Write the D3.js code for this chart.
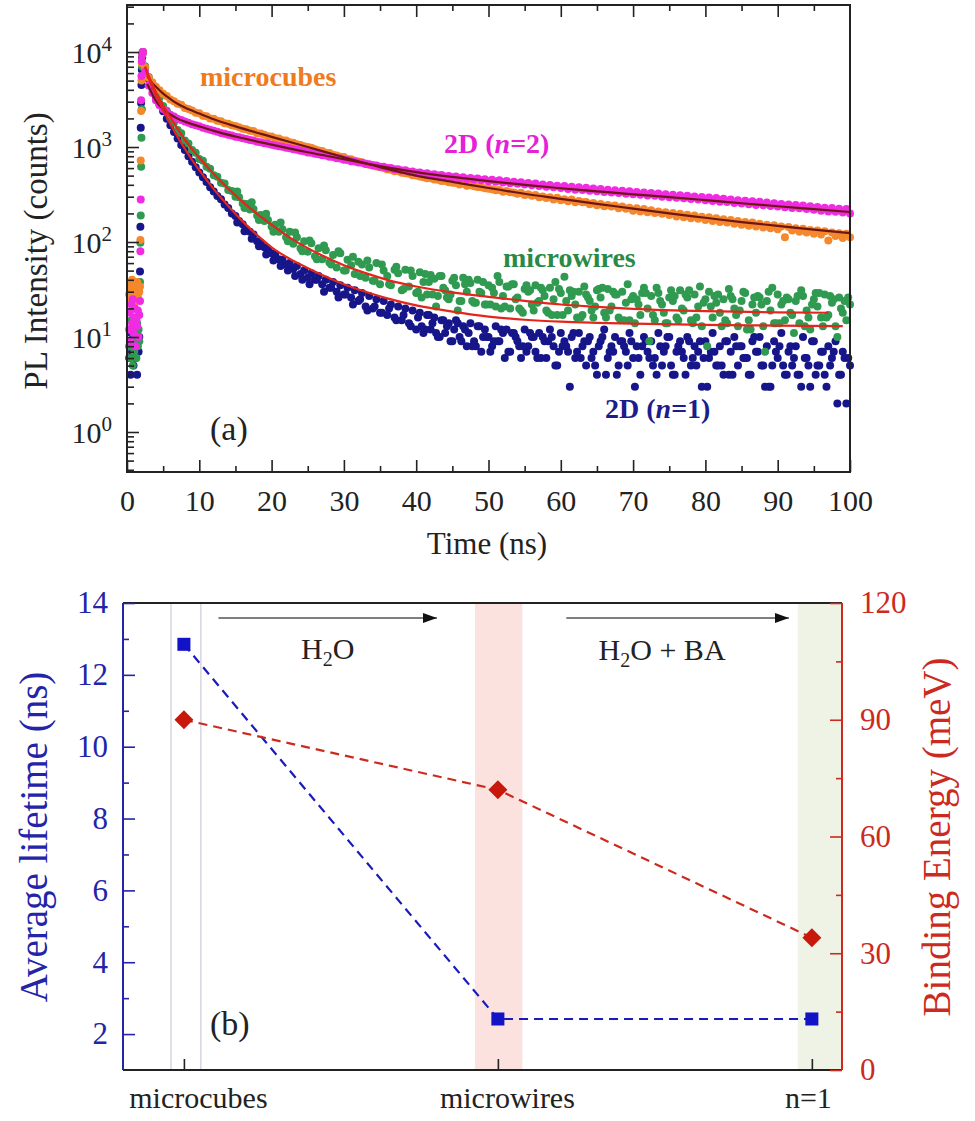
<!DOCTYPE html>
<html>
<head>
<meta charset="utf-8">
<script src="https://cdn.jsdelivr.net/npm/d3@7"></script>
<style>
  body { margin: 0; background: #fff; }
  svg { display: block; font-family: "Liberation Serif", "Times New Roman", serif; }
</style>
</head>
<body>
<script>
// ---------- panel (a): PL decay traces (counts vs ns) ----------
// rising edge, shared time stamps
const riseTime = [0.3, 0.4, 0.5, 0.6, 0.7, 0.8, 0.9, 1.0, 1.1, 1.2, 1.3, 1.4, 1.5, 1.6, 1.7, 1.8, 1.85, 1.9, 1.95, 2.0, 2.05, 2.1, 2.15, 2.2];
const riseCubes = [28, 35, 24, 31, 40, 26, 33, 22, 36, 29, 25, 38, 27, 32, 30, 34, 105, 720, 2400, 5000, 7600, 9300, 9800, 10000];
const riseN2 = [12, 18, 9, 22, 14, 25, 11, 16, 20, 8, 15, 13, 19, 10, 17, 24, 80, 280, 3100, 5600, 8000, 9400, 9900, 10000];
const riseWires = [8, 12, 6, 15, 9, 5, 11, 7, 13, 10, 6, 14, 8, 12, 9, 38, 98, 190, 620, 1250, 2500, 7000, 9600, 10000];
const riseN1 = [6, 9, 4, 11, 7, 13, 5, 8, 10, 6, 12, 4, 9, 7, 10, 49, 145, 1600, 2900, 4500, 6500, 8800, 9700, 10000];

// decay channels, every 0.5 ns from 2.5 to 100 ns
const decayTime = d3.range(2.5, 100.01, 0.5);
const decayCubes = [
  6900, 5350, 4800, 4320, 3950, 3640, 3450, 3170, 3030, 2850,
  2780, 2580, 2520, 2430, 2290, 2270, 2140, 2110, 2000, 1980,
  1890, 1870, 1780, 1760, 1690, 1660, 1610, 1560, 1540, 1480,
  1470, 1400, 1390, 1350, 1300, 1290, 1240, 1230, 1180, 1170,
  1120, 1110, 1070, 1050, 1020, 1000, 980, 950, 920, 910,
  870, 865, 830, 815, 790, 785, 750, 745, 715, 705,
  690, 672, 650, 645, 622, 612, 600, 580, 578, 555,
  556, 535, 528, 522, 505, 500, 488, 482, 470, 468,
  456, 452, 438, 440, 425, 420, 418, 404, 410, 392,
  396, 386, 380, 378, 368, 364, 360, 350, 352, 338,
  344, 334, 332, 322, 330, 312, 318, 306, 312, 296,
  302, 290, 296, 280, 292, 276, 282, 268, 280, 262,
  270, 262, 264, 250, 258, 244, 252, 238, 246, 236,
  242, 226, 236, 224, 230, 214, 226, 210, 222, 206,
  216, 202, 210, 198, 206, 192, 202, 186, 198, 182,
  194, 178, 190, 176, 184, 170, 182, 166, 178, 162,
  174, 160, 170, 156, 166, 152, 162, 148, 160, 146,
  156, 142, 152, 140, 150, 136, 146, 112, 144, 132,
  140, 128, 138, 126, 134, 122, 132, 120, 130, 104,
  126, 116, 124, 110, 122, 112
];
const decayN2 = [
  6200, 4450, 3700, 3100, 2760, 2520, 2330, 2190, 2090, 1980,
  1930, 1860, 1800, 1740, 1690, 1650, 1600, 1560, 1520, 1480,
  1450, 1405, 1380, 1345, 1320, 1285, 1265, 1235, 1215, 1185,
  1168, 1135, 1122, 1095, 1080, 1055, 1040, 1018, 1004, 985,
  970, 948, 935, 912, 902, 878, 870, 848, 840, 818,
  812, 790, 784, 762, 756, 735, 730, 710, 705, 688,
  682, 662, 660, 640, 638, 620, 618, 600, 600, 582,
  584, 566, 568, 550, 554, 536, 540, 522, 528, 512,
  516, 500, 506, 490, 496, 480, 488, 470, 480, 462,
  472, 454, 466, 446, 458, 436, 452, 430, 446, 422,
  440, 416, 432, 410, 426, 402, 418, 396, 412, 388,
  404, 382, 398, 376, 392, 370, 388, 362, 382, 356,
  376, 352, 372, 346, 366, 342, 362, 336, 356, 332,
  350, 328, 346, 322, 342, 318, 336, 314, 332, 308,
  328, 306, 324, 300, 318, 296, 314, 292, 310, 288,
  306, 284, 302, 280, 298, 276, 294, 270, 290, 266,
  286, 264, 280, 258, 276, 254, 272, 250, 268, 246,
  266, 244, 260, 240, 256, 236, 252, 232, 248, 228,
  246, 226, 242, 222, 238, 218, 234, 214, 230, 210,
  228, 208, 224, 204, 222, 200
];
const decayWires = [
  7100, 5450, 4700, 3720, 3300, 2700, 2410, 2010, 1810, 1510,
  1400, 1170, 1090, 930, 870, 750, 715, 620, 590, 505,
  485, 420, 412, 352, 345, 300, 296, 255, 252, 220,
  222, 190, 192, 166, 170, 146, 152, 128, 136, 112,
  128, 96, 112, 86, 102, 79, 97, 71, 86, 66,
  82, 61, 73, 54, 76, 50, 65, 57, 46, 62,
  58, 42, 54, 39, 60, 36, 50, 44, 35, 51,
  47, 31, 51, 34, 44, 29, 48, 38, 28, 45,
  41, 27, 44, 31, 25, 39, 35, 24, 42, 30,
  37, 23, 40, 29, 22, 35, 33, 21, 38, 27,
  34, 20, 36, 26, 19, 32, 30, 22, 35, 24,
  31, 19, 33, 25, 17, 29, 43, 19, 27, 22,
  30, 17, 28, 24, 16, 31, 26, 18, 32, 21,
  28, 16, 30, 23, 15, 27, 25, 17, 33, 20,
  27, 15, 29, 22, 14, 26, 24, 16, 31, 19,
  26, 15, 28, 21, 13, 25, 30, 16, 23, 18,
  25, 14, 27, 20, 13, 24, 29, 15, 22, 18,
  26, 13, 24, 19, 14, 28, 22, 15, 25, 17,
  24, 14, 27, 19, 12, 25, 21, 16, 28, 17,
  23, 13, 26, 18, 15, 22
];
const decayN1 = [
  6900, 5200, 4150, 3400, 2820, 2380, 1990, 1690, 1440, 1230,
  1050, 930, 800, 700, 612, 540, 480, 428, 378, 340,
  305, 282, 248, 228, 200, 188, 166, 154, 136, 128,
  120, 102, 98, 88, 84, 76, 74, 66, 65, 58,
  60, 52, 56, 46, 50, 42, 47, 40, 44, 36,
  40, 33, 38, 30, 35, 28, 33, 26, 31, 24,
  29, 21, 27, 20, 25, 18, 24, 17, 22, 16,
  21, 15, 20, 14, 19, 12, 18, 11, 17, 12,
  16, 10, 15, 11, 14, 9, 15, 10, 13, 8,
  14, 9, 13, 7, 12, 10, 8, 13, 9, 11,
  12, 7, 11, 9, 6, 12, 8, 10, 7, 11,
  10, 6, 12, 8, 5, 11, 9, 7, 10, 6,
  11, 8, 5, 10, 7, 4, 9, 12, 6, 8,
  10, 5, 9, 7, 11, 6, 8, 4, 10, 7,
  9, 6, 11, 5, 8, 10, 4, 7, 9, 6,
  10, 5, 8, 7, 3, 9, 6, 11, 5, 8,
  4, 9, 7, 10, 5, 8, 6, 4, 9, 7,
  10, 5, 8, 3, 9, 6, 11, 4, 7, 5,
  8, 4, 10, 6, 3, 9, 5, 7, 4, 8,
  6, 9, 4, 7, 2, 5
];

// extra noisy channels in the tails (1 ns apart, from 15.25 ns)
const extraTime = d3.range(15.25, 99.26, 1);
const extraWires = [
  340, 228, 262, 170, 198, 128, 160, 102, 126, 80,
  104, 66, 92, 58, 80, 50, 70, 44, 64, 39,
  58, 36, 55, 32, 50, 30, 46, 28, 44, 26,
  42, 24, 40, 23, 38, 22, 44, 21, 36, 20,
  35, 19, 33, 18, 38, 17, 31, 16, 34, 19,
  32, 16, 30, 15, 36, 14, 29, 9, 33, 18,
  31, 15, 28, 14, 34, 8, 27, 13, 32, 17,
  30, 12, 27, 7, 33, 14, 26, 11, 31, 16,
  29, 13, 27, 10, 24
];
const extraN1 = [
  160, 130, 108, 90, 74, 64, 56, 50, 44, 40,
  36, 40, 30, 33, 26, 28, 22, 25, 19, 21,
  18, 20, 15, 17, 13, 16, 12, 14, 10, 13,
  12, 9, 11, 8, 10, 7, 9, 6, 11, 8,
  7, 10, 6, 9, 5, 8, 3, 7, 9, 6,
  8, 4, 7, 9, 5, 3, 8, 6, 4, 7,
  5, 8, 4, 6, 9, 3, 7, 5, 4, 8,
  6, 4, 7, 3, 5, 8, 4, 6, 3, 5,
  4, 7, 5, 2, 6
];
// second set of tail channels (1 ns apart, from 40.75 ns)
const extraTime2 = d3.range(40.75, 99.76, 1);
const extraWires2 = [
  26, 38, 21, 33, 28, 19, 36, 24, 30, 22,
  29, 20, 34, 25, 18, 31, 23, 27, 17, 32,
  24, 30, 16, 26, 21, 33, 19, 28, 15, 25,
  22, 29, 17, 24, 14, 27, 20, 31, 16, 23,
  21, 28, 15, 25, 19, 12, 26, 22, 30, 14,
  24, 18, 27, 13, 22, 29, 16, 25, 20, 26
];
const extraN1b = [
  13, 17, 11, 15, 9, 14, 12, 8, 13, 10,
  9, 12, 7, 10, 8, 11, 6, 9, 10, 7,
  8, 11, 6, 9, 5, 10, 7, 4, 8, 9,
  6, 9, 5, 8, 10, 4, 7, 9, 5, 6,
  7, 5, 9, 4, 8, 6, 10, 5, 3, 7,
  5, 8, 4, 6, 9, 5, 3, 7, 4, 6
];

// fitted curves
const fitTimeSlow = [2.8, 3.5, 4, 5, 6, 7, 8, 10, 12, 15, 20, 25, 30, 35, 40, 45, 50, 55, 60, 65, 70, 75, 80, 85, 90, 95, 100];
const fitCubes = [5600, 4700, 4300, 3650, 3200, 2850, 2600, 2250, 1960, 1650, 1280, 1000, 780, 615, 500, 430, 370, 322, 285, 252, 225, 200, 180, 162, 148, 135, 124];
const fitN2 = [4600, 3600, 3050, 2500, 2200, 1990, 1850, 1650, 1480, 1290, 1060, 880, 745, 630, 545, 485, 437, 400, 368, 342, 318, 297, 276, 256, 238, 222, 207];
const fitTimeWires = [2.5, 3, 3.5, 4, 5, 6, 7, 8, 9, 10, 12, 14, 16, 18, 20, 22, 24, 27, 30, 33, 36, 40, 45, 50, 55, 60, 65, 70, 80, 90, 97];
const fitWires = [7000, 5600, 4600, 3800, 2750, 2050, 1550, 1200, 950, 770, 520, 365, 265, 198, 152, 118, 95, 72, 57, 47, 40, 34, 29.5, 26.5, 24, 22, 20.8, 19.8, 18.7, 18.2, 18];
const fitTimeN1 = [2.5, 3, 3.5, 4, 5, 6, 7, 8, 9, 10, 12, 14, 16, 18, 20, 22, 24, 27, 30, 33, 36, 40, 45, 50, 55, 60, 65, 70, 80, 90, 99];
const fitN1 = [7000, 5300, 4250, 3500, 2450, 1750, 1280, 960, 730, 570, 360, 240, 165, 118, 88, 70, 58, 45, 36, 30, 25.5, 21.5, 18.5, 16.4, 15.2, 14.5, 14.1, 13.8, 13.4, 13.2, 13];

const decades = [1, 10, 100, 1000, 10000];
const timeTicks = [0, 10, 20, 30, 40, 50, 60, 70, 80, 90, 100];

// ---------- panel (b): lifetime and binding energy ----------
const stages = ['microcubes', 'microwires', 'n=1'];
const lifetime = [12.85, 2.42, 2.42];          // ns
const bindingEnergy = [90, 72, 34];            // meV
const lifetimeTicks = [2, 4, 6, 8, 10, 12, 14];
const energyTicks = [0, 30, 60, 90, 120];

const ink = '#222';
const svg = d3.select('body').append('svg')
  .attr('width', 975)
  .attr('height', 1121);

// ================= panel (a) =================
const xA = d3.scaleLinear().domain([0, 100]).range([127, 850]);
const yA = d3.scaleLog().domain([0.3793, 31260]).range([472, 5]);

const series = [
  {color: '#16168a', rise: riseN1, decay: decayN1, extra: [[extraTime, extraN1], [extraTime2, extraN1b]]},
  {color: '#2f9a50', rise: riseWires, decay: decayWires, extra: [[extraTime, extraWires], [extraTime2, extraWires2]]},
  {color: '#f5882c', rise: riseCubes, decay: decayCubes, extra: []},
  {color: '#f02ce2', rise: riseN2, decay: decayN2, extra: []}
];

const gA = svg.append('g');
series.forEach(s => {
  let pts = riseTime.map((t, i) => [t, s.rise[i]])
    .concat(decayTime.map((t, i) => [t, s.decay[i]]));
  s.extra.forEach(e => {
    pts = pts.concat(e[0].map((t, i) => [t, e[1][i]]));
  });
  gA.append('g').selectAll('circle')
    .data(pts).enter()
    .append('circle')
    .attr('cx', d => xA(d[0]))
    .attr('cy', d => yA(d[1]))
    .attr('r', 4)
    .attr('fill', s.color);
});

const fitLine = d3.line()
  .x(d => xA(d[0]))
  .y(d => yA(d[1]))
  .curve(d3.curveMonotoneX);

const fits = [
  {t: fitTimeSlow, v: fitCubes, color: '#6e1515'},
  {t: fitTimeSlow, v: fitN2, color: '#6e1515'},
  {t: fitTimeWires, v: fitWires, color: '#e3261b'},
  {t: fitTimeN1, v: fitN1, color: '#e3261b'}
];
fits.forEach(f => {
  gA.append('path')
    .datum(f.t.map((t, i) => [t, f.v[i]]))
    .attr('d', fitLine)
    .attr('fill', 'none')
    .attr('stroke', f.color)
    .attr('stroke-width', 2.2);
});

// axes (ticks point inwards)
function styleAxis(g, color, size) {
  g.select('.domain').remove();
  g.selectAll('line').attr('stroke', color).attr('stroke-width', 1.6);
  g.selectAll('text').attr('fill', color).style('font-size', size + 'px')
    .style('font-family', '"Liberation Serif", "Times New Roman", serif');
}
const minorTime = d3.range(5, 100, 10);
gA.append('g').attr('transform', 'translate(0,472)')
  .call(d3.axisBottom(xA).tickValues(timeTicks).tickSize(-12).tickSizeOuter(0).tickPadding(18))
  .call(g => styleAxis(g, ink, 30));
gA.append('g').attr('transform', 'translate(0,472)')
  .call(d3.axisBottom(xA).tickValues(minorTime).tickSize(-6).tickFormat(''))
  .call(g => styleAxis(g, ink, 30));
gA.append('g').attr('transform', 'translate(0,5)')
  .call(d3.axisTop(xA).tickValues(timeTicks.slice(1, -1)).tickSize(-12).tickFormat(''))
  .call(g => styleAxis(g, ink, 30));
gA.append('g').attr('transform', 'translate(0,5)')
  .call(d3.axisTop(xA).tickValues(minorTime).tickSize(-6).tickFormat(''))
  .call(g => styleAxis(g, ink, 30));

const minorLog = yA.ticks().filter(v => Math.abs(Math.log10(v) - Math.round(Math.log10(v))) > 1e-6);
gA.append('g').attr('transform', 'translate(127,0)')
  .call(d3.axisLeft(yA).tickValues(decades).tickSize(-12).tickFormat(''))
  .call(g => styleAxis(g, ink, 30));
gA.append('g').attr('transform', 'translate(127,0)')
  .call(d3.axisLeft(yA).tickValues(minorLog).tickSize(-7).tickFormat(''))
  .call(g => styleAxis(g, ink, 30));

const yLab = gA.append('g').selectAll('text')
  .data(decades).enter()
  .append('text')
  .attr('x', 112)
  .attr('y', d => yA(d) + 11)
  .attr('text-anchor', 'end')
  .attr('fill', ink)
  .style('font-size', '30px');
yLab.append('tspan').text('10');
yLab.append('tspan')
  .attr('dy', -12)
  .style('font-size', '21px')
  .text(d => Math.round(Math.log10(d)));

gA.append('rect')
  .attr('x', 127).attr('y', 5)
  .attr('width', 723).attr('height', 467)
  .attr('fill', 'none')
  .attr('stroke', ink)
  .attr('stroke-width', 2);

gA.append('text')
  .attr('transform', 'translate(47,251) rotate(-90)')
  .attr('text-anchor', 'middle')
  .attr('fill', ink)
  .style('font-size', '33px')
  .text('PL Intensity (counts)');
gA.append('text')
  .attr('x', 487).attr('y', 554)
  .attr('text-anchor', 'middle')
  .attr('fill', ink)
  .style('font-size', '31px')
  .text('Time (ns)');
gA.append('text')
  .attr('x', 210).attr('y', 440)
  .attr('fill', ink)
  .style('font-size', '34px')
  .text('(a)');

// series labels
const seriesLabels = [
  {x: 200, y: 86, color: '#f07a1e', pre: 'microcubes'},
  {x: 444, y: 153, color: '#e61fd8', pre: '2D (', it: 'n', post: '=2)'},
  {x: 503, y: 267, color: '#2a8a45', pre: 'microwires'},
  {x: 605, y: 418, color: '#1c1c8c', pre: '2D (', it: 'n', post: '=1)'}
];
seriesLabels.forEach(l => {
  const t = gA.append('text')
    .attr('x', l.x).attr('y', l.y)
    .attr('fill', l.color)
    .style('font-size', '28px')
    .style('font-weight', 'bold');
  t.append('tspan').text(l.pre);
  if (l.it) {
    t.append('tspan').style('font-style', 'italic').text(l.it);
    t.append('tspan').text(l.post);
  }
});

// ================= panel (b) =================
const xB = d3.scaleLinear().domain([-0.194, 2.096]).range([123, 842]);
const yL = d3.scaleLinear().domain([1, 14]).range([1070, 603]);
const yR = d3.scaleLinear().domain([0, 120]).range([1070, 603]);
const blue = '#2424a8';
const red = '#cc2a1e';

const gB = svg.append('g');

// shaded stages
gB.append('rect')
  .attr('x', xB(1 - 0.073)).attr('y', 603)
  .attr('width', xB(1 + 0.078) - xB(1 - 0.073)).attr('height', 467)
  .attr('fill', '#fce2df');
gB.append('rect')
  .attr('x', xB(2 - 0.045)).attr('y', 603)
  .attr('width', 842 - xB(2 - 0.045)).attr('height', 467)
  .attr('fill', '#eff3e6');
[-0.041, 0.054].forEach(o => {
  gB.append('line')
    .attr('x1', xB(0 + o)).attr('x2', xB(0 + o))
    .attr('y1', 603).attr('y2', 1070)
    .attr('stroke', '#cfd0dc')
    .attr('stroke-width', 1.3);
});

// frame lines
gB.append('line').attr('x1', 123).attr('x2', 842).attr('y1', 603).attr('y2', 603)
  .attr('stroke', ink).attr('stroke-width', 2);

const labelShift = [14, 9, -4];
gB.append('g').attr('transform', 'translate(0,1070)')
  .call(d3.axisBottom(xB).tickValues([0, 1, 2]).tickSize(-11).tickSizeOuter(0).tickPadding(17)
    .tickFormat(i => stages[i]))
  .call(g => styleAxis(g, ink, 30))
  .call(g => g.selectAll('text').attr('dx', (d, i) => labelShift[i]));
gB.append('line').attr('x1', 123).attr('x2', 842).attr('y1', 1070).attr('y2', 1070)
  .attr('stroke', ink).attr('stroke-width', 2);

gB.append('g').attr('transform', 'translate(123,0)')
  .call(d3.axisLeft(yL).tickValues(lifetimeTicks).tickSize(-12).tickPadding(15))
  .call(g => styleAxis(g, blue, 31));
gB.append('g').attr('transform', 'translate(123,0)')
  .call(d3.axisLeft(yL).tickValues([3, 5, 7, 9, 11, 13]).tickSize(-6).tickFormat(''))
  .call(g => styleAxis(g, blue, 31));
gB.append('line').attr('x1', 123).attr('x2', 123).attr('y1', 603).attr('y2', 1070)
  .attr('stroke', blue).attr('stroke-width', 2);

gB.append('g').attr('transform', 'translate(842,0)')
  .call(d3.axisRight(yR).tickValues(energyTicks).tickSize(-12).tickPadding(18))
  .call(g => styleAxis(g, red, 31));
gB.append('g').attr('transform', 'translate(842,0)')
  .call(d3.axisRight(yR).tickValues([15, 45, 75, 105]).tickSize(-6).tickFormat(''))
  .call(g => styleAxis(g, red, 31));
gB.append('line').attr('x1', 842).attr('x2', 842).attr('y1', 603).attr('y2', 1070)
  .attr('stroke', red).attr('stroke-width', 2);

// arrows
svg.append('defs').append('marker')
  .attr('id', 'head')
  .attr('markerUnits', 'userSpaceOnUse')
  .attr('markerWidth', 14).attr('markerHeight', 10)
  .attr('refX', 14).attr('refY', 5)
  .attr('orient', 'auto')
  .append('path')
  .attr('d', 'M0,0 L14,5 L0,10 Z')
  .attr('fill', '#111');
[[0.11, 0.806], [1.218, 1.927]].forEach(a => {
  gB.append('line')
    .attr('x1', xB(a[0])).attr('x2', xB(a[1]))
    .attr('y1', 618).attr('y2', 618)
    .attr('stroke', '#555')
    .attr('stroke-width', 1.5)
    .attr('marker-end', 'url(#head)');
});
function water(g, x, y, tail) {
  const t = g.append('text').attr('x', x).attr('y', y)
    .attr('text-anchor', 'middle').attr('fill', ink).style('font-size', '30px');
  t.append('tspan').text('H');
  t.append('tspan').attr('dy', 7).style('font-size', '20px').text('2');
  t.append('tspan').attr('dy', -7).text('O' + tail);
}
water(gB, xB(0.458), 659, '');
water(gB, xB(1.523), 660, ' + BA');

// dashed connectors and markers
const lineL = d3.line().x((d, i) => xB(i)).y(d => yL(d));
const lineR = d3.line().x((d, i) => xB(i)).y(d => yR(d));
gB.append('path').datum(lifetime).attr('d', lineL)
  .attr('fill', 'none').attr('stroke', '#1b1bbb')
  .attr('stroke-width', 2.2).attr('stroke-dasharray', '9,6');
gB.append('path').datum(bindingEnergy).attr('d', lineR)
  .attr('fill', 'none').attr('stroke', '#cc2a1e')
  .attr('stroke-width', 2.2).attr('stroke-dasharray', '9,6');

gB.append('g').selectAll('path')
  .data(lifetime).enter()
  .append('path')
  .attr('d', d3.symbol(d3.symbolSquare, 170))
  .attr('transform', (d, i) => `translate(${xB(i)},${yL(d)})`)
  .attr('fill', '#1212c6');
gB.append('g').selectAll('path')
  .data(bindingEnergy).enter()
  .append('path')
  .attr('d', d3.symbol(d3.symbolSquare, 180))
  .attr('transform', (d, i) => `translate(${xB(i)},${yR(d)}) rotate(45)`)
  .attr('fill', '#c8180c');

gB.append('text')
  .attr('transform', 'translate(47,837) rotate(-90)')
  .attr('text-anchor', 'middle')
  .attr('fill', blue)
  .style('font-size', '39px')
  .text('Average lifetime (ns)');
gB.append('text')
  .attr('transform', 'translate(950,837) rotate(-90)')
  .attr('text-anchor', 'middle')
  .attr('fill', red)
  .style('font-size', '39px')
  .text('Binding Energy (meV)');
gB.append('text')
  .attr('x', 210).attr('y', 1035)
  .attr('fill', ink)
  .style('font-size', '34px')
  .text('(b)');
</script>
</body>
</html>
